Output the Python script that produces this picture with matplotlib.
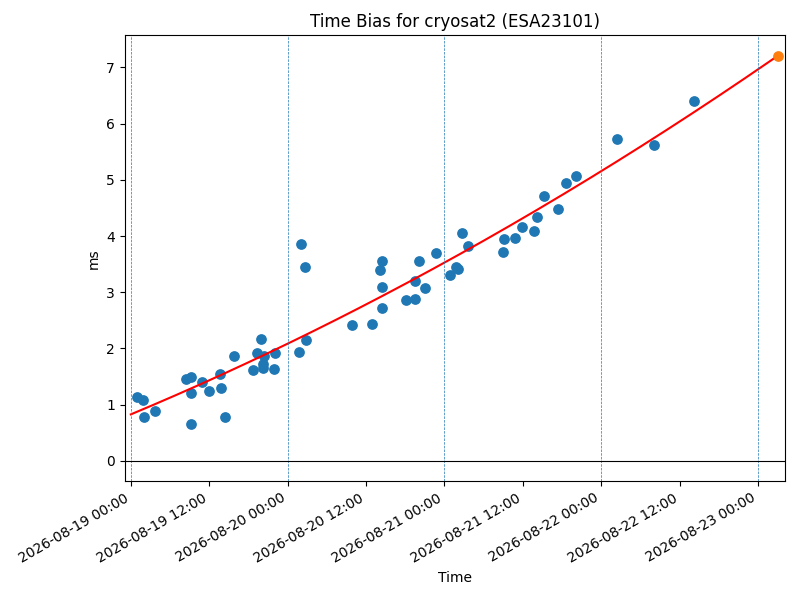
import matplotlib
matplotlib.use("Agg")
import matplotlib.pyplot as plt
import matplotlib.dates as mdates
import numpy as np
from datetime import datetime, timedelta

start = datetime(2026, 8, 19)

# hours after 2026-08-19 00:00
hours = [0.92, 1.88, 2.03, 3.71, 8.51, 9.22, 9.22, 9.22, 10.9, 11.97,
         13.65, 13.8, 14.41, 15.85, 18.7, 19.31, 19.92, 20.33, 20.22, 20.22,
         22.01, 21.9, 25.76, 26.03, 26.64, 26.87, 33.78, 36.88, 38.41, 38.1,
         38.41, 38.41, 42.19, 43.52, 43.46, 44.07, 44.99, 46.67, 48.84, 49.8,
         50.14, 50.75, 51.56, 56.91, 57.06, 58.74, 59.81, 61.65, 62.21, 63.18,
         65.32, 66.54, 68.18, 74.44, 80.1, 86.21]
bias_ms = [1.145, 1.08, 0.78, 0.89, 1.455, 1.49, 1.21, 0.65, 1.40, 1.25,
           1.545, 1.295, 0.78, 1.87, 1.62, 1.92, 2.17, 1.86, 1.72, 1.65,
           1.92, 1.63, 1.94, 3.85, 3.45, 2.155, 2.42, 2.435, 3.56, 3.40,
           3.09, 2.72, 2.86, 2.88, 3.20, 3.56, 3.08, 3.70, 3.31, 3.455,
           3.41, 4.055, 3.82, 3.72, 3.94, 3.97, 4.16, 4.09, 4.34, 4.72,
           4.48, 4.95, 5.06, 5.72, 5.61, 6.41]

predict_hour = 99.05
day_lines = [0, 24, 48, 72, 96]

coef = np.polyfit(hours, bias_ms, 2)
fit_h = np.linspace(0, predict_hour, 200)
fit_v = np.polyval(coef, fit_h)
pred_v = np.polyval(coef, predict_hour)

def to_dt(hs):
    return [start + timedelta(hours=float(h)) for h in hs]

fig, ax = plt.subplots(figsize=(8, 6), dpi=100)
ax.scatter(to_dt(hours), bias_ms, s=45)
ax.plot(to_dt(fit_h), fit_v, color="red")
ax.scatter(to_dt([predict_hour]), [pred_v], s=45, color="C1", zorder=3)
for d in day_lines:
    ax.axvline(start + timedelta(hours=d), color="C0", linestyle="--", linewidth=0.5)
ax.axhline(0, color="black", linewidth=0.8)

ax.xaxis.set_major_locator(mdates.HourLocator(byhour=[0, 12]))
ax.xaxis.set_major_formatter(mdates.DateFormatter("%Y-%m-%d %H:%M"))
ax.set_xlim(start - timedelta(hours=0.92), start + timedelta(hours=100.1))
ax.set_title("Time Bias for cryosat2 (ESA23101)")
ax.set_xlabel("Time")
ax.set_ylabel("ms")
fig.autofmt_xdate()
fig.subplots_adjust(left=0.156, right=0.981, top=0.941, bottom=0.198)
fig.savefig("out.png")
